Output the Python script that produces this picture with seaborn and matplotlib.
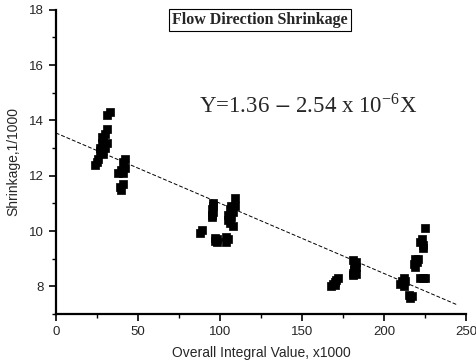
import numpy as np
import pandas as pd
import matplotlib
matplotlib.use("Agg")
import matplotlib.pyplot as plt
from matplotlib.ticker import MultipleLocator
import seaborn as sns

# Overall integral value (x1000) and shrinkage (1/1000)
integral_x = [24, 25, 26, 27, 27, 28, 28, 29, 29, 30, 31, 30, 31, 31, 33, 29,
              38, 39, 40, 41, 40, 41, 42, 42, 41,
              88, 89,
              95, 95, 96, 96, 96, 95, 97, 98, 97, 98,
              104, 105, 104, 105, 106, 105, 106, 107, 107, 108, 109, 109, 108,
              168, 169, 170, 171, 172, 170,
              181, 182, 181, 183, 182, 183, 181, 183,
              210, 211, 212, 213, 212, 215, 216, 217, 218, 219, 220, 221, 219,
              222, 223, 224, 224, 225, 222, 224, 225]
shrinkage = [12.4, 12.5, 12.6, 12.9, 13.0, 13.2, 13.4, 13.1, 13.3, 13.5, 13.7, 13.0, 13.2, 14.2, 14.3, 12.8,
             12.1, 11.6, 11.5, 11.7, 12.2, 12.5, 12.6, 12.3, 12.1,
             9.95, 10.05,
             10.6, 10.8, 11.0, 10.9, 10.7, 10.5, 9.65, 9.7, 9.75, 9.6,
             9.6, 9.7, 9.8, 10.4, 10.3, 10.6, 10.8, 10.9, 10.5, 10.7, 10.9, 11.2, 10.2,
             8.0, 8.1, 8.15, 8.25, 8.3, 8.05,
             8.5, 8.6, 8.4, 8.7, 8.8, 8.9, 8.95, 8.45,
             8.1, 8.2, 8.3, 8.2, 8.0, 7.7, 7.6, 7.65, 8.8, 9.0, 8.9, 9.0, 8.7,
             9.6, 9.7, 9.5, 9.4, 10.1, 8.3, 8.3, 8.3]

# regression line, in plot units
fit_intercept = 13.55
fit_slope = -0.0254
fit_range = [0, 245]

df = pd.DataFrame({"x": integral_x, "y": shrinkage})
fit = pd.DataFrame({"x": fit_range})
fit["y"] = fit_intercept + fit_slope * fit["x"]

sns.set_style("ticks")
plt.rcParams["font.family"] = ["Liberation Sans", "DejaVu Sans"]
plt.rcParams["mathtext.fontset"] = "stix"

fig = plt.figure(figsize=(4.77, 3.64), dpi=100)
ax = fig.add_axes([0.117, 0.137, 0.86, 0.836])

sns.lineplot(data=fit, x="x", y="y", ax=ax, color="black", lw=0.7,
             linestyle=(0, (4, 2)))
sns.scatterplot(data=df, x="x", y="y", ax=ax, marker="s", s=32,
                color="black", edgecolor="black", linewidth=0.5)

ax.set_xlim(0, 250)
ax.set_ylim(7, 18)
ax.xaxis.set_major_locator(MultipleLocator(50))
ax.xaxis.set_minor_locator(MultipleLocator(25))
ax.yaxis.set_major_locator(MultipleLocator(2))
ax.yaxis.set_minor_locator(MultipleLocator(1))
ax.tick_params(which="major", length=5, width=1.2, labelsize=9.5, color="black")
ax.tick_params(which="minor", length=3, width=1.0, color="black")
for s in ["left", "bottom"]:
    ax.spines[s].set_linewidth(1.6)
    ax.spines[s].set_color("black")
sns.despine(ax=ax)

ax.set_xlabel("Overall Integral Value, x1000", fontsize=10, labelpad=6)
ax.set_ylabel("Shrinkage,1/1000", fontsize=10, labelpad=6)

ax.text(0.497, 0.967, "Flow Direction Shrinkage", transform=ax.transAxes,
        ha="center", va="center", fontsize=11.5, fontweight="bold",
        family=["Liberation Serif", "DejaVu Serif"],
        bbox=dict(boxstyle="square,pad=0.2", fc="white", ec="black", lw=0.8))
ax.text(0.617, 0.685, r"Y=1.36 $-$ 2.54 x 10$^{\mathregular{-6}}$X",
        transform=ax.transAxes,
        ha="center", va="center", fontsize=16.5,
        family=["Liberation Serif", "DejaVu Serif"])

fig.savefig("out.png", dpi=100)
